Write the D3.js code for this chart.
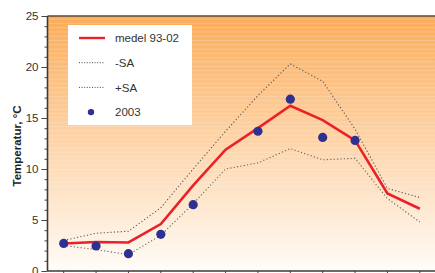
<!DOCTYPE html>
<html>
<head>
<meta charset="utf-8">
<script src="https://cdn.jsdelivr.net/npm/d3@7"></script>
<style>
  html, body { margin: 0; padding: 0; background: #fff; }
  svg { display: block; font-family: "Liberation Sans", Arial, sans-serif; }
</style>
</head>
<body>
<svg id="chart" width="435" height="273"></svg>
<script>
// months Jan..Dec
const months = ["jan", "feb", "mar", "apr", "maj", "jun", "jul", "aug", "sep", "okt", "nov", "dec"];
const medel = [2.7, 2.85, 2.8, 4.6, 8.4, 11.9, 14.0, 16.2, 14.8, 12.8, 7.6, 6.1];
const minusSA = [2.5, 2.1, 1.6, 3.5, 6.6, 10.0, 10.6, 12.0, 10.9, 11.05, 7.1, 4.8];
const plusSA = [3.0, 3.7, 3.9, 6.2, 10.0, 13.7, 17.2, 20.3, 18.6, 13.9, 8.1, 7.2];
const obs2003 = [2.7, 2.45, 1.7, 3.6, 6.5, null, 13.7, 16.85, 13.1, 12.8, null, null];
const yTicks = [0, 5, 10, 15, 20, 25];

const svg = d3.select("#chart");
const margin = { top: 16, right: -1, bottom: 2, left: 47.5 };
const W = 435, H = 273;
const x0 = margin.left, x1 = W - margin.right, y0 = margin.top, y1 = H - margin.bottom;

const x = d3.scaleBand().domain(months).range([x0, x1]);
const y = d3.scaleLinear().domain([0, 25]).range([y1, y0]);
const cx = m => x(m) + x.bandwidth() / 2;

// background gradient
const defs = svg.append("defs");
const grad = defs.append("linearGradient").attr("id", "bg")
  .attr("x1", 0).attr("y1", 0).attr("x2", 0).attr("y2", 1);
grad.append("stop").attr("offset", "0%").attr("stop-color", "#fbac5a");
grad.append("stop").attr("offset", "45%").attr("stop-color", "#fdd1a2");
grad.append("stop").attr("offset", "100%").attr("stop-color", "#fffcf8");

svg.append("rect")
  .attr("x", x0).attr("y", y0)
  .attr("width", x1 - x0).attr("height", y1 - y0)
  .attr("fill", "url(#bg)");

// faint horizontal streaks like the original gradient banding
svg.append("g").selectAll("line")
  .data(d3.range(y0 + 3, y1 - 80, 4.3))
  .join("line")
  .attr("x1", x0).attr("x2", x1)
  .attr("y1", d => d).attr("y2", d => d)
  .attr("stroke", "#fff").attr("stroke-opacity", 0.2).attr("stroke-width", 1);

// lines
const line = d3.line().x((d, i) => cx(months[i])).y(d => y(d));

svg.append("path").datum(plusSA)
  .attr("d", line).attr("fill", "none")
  .attr("stroke", "#555").attr("stroke-width", 1.1).attr("stroke-dasharray", "1.2,2.2");
svg.append("path").datum(minusSA)
  .attr("d", line).attr("fill", "none")
  .attr("stroke", "#666").attr("stroke-width", 1.1).attr("stroke-dasharray", "1.2,2.2");
svg.append("path").datum(medel)
  .attr("d", line).attr("fill", "none")
  .attr("stroke", "#ec2028").attr("stroke-width", 2.6);

svg.append("g").selectAll("circle")
  .data(obs2003.map((v, i) => ({ m: months[i], v })).filter(d => d.v !== null))
  .join("circle")
  .attr("cx", d => cx(d.m)).attr("cy", d => y(d.v))
  .attr("r", 4.6).attr("fill", "#2e3192");

// axes
const yAxis = d3.axisLeft(y).tickValues(yTicks).tickSize(6).tickPadding(3);
const gy = svg.append("g").attr("transform", `translate(${x0},0)`).call(yAxis);
gy.select(".domain").remove();
gy.selectAll("line").attr("stroke", "#444");
gy.selectAll("text").attr("font-size", 11.5).attr("fill", "#333")
  .attr("font-family", "Liberation Sans, Arial, sans-serif");

const yMinor = d3.axisLeft(y).tickValues(d3.range(0, 26).filter(v => v % 5 !== 0))
  .tickSize(3).tickFormat("");
const gm = svg.append("g").attr("transform", `translate(${x0},0)`).call(yMinor);
gm.select(".domain").remove();
gm.selectAll("line").attr("stroke", "#444");

const xAxis = d3.axisBottom(x).tickSize(4).tickFormat("");
const gx = svg.append("g").attr("transform", `translate(0,${y1})`).call(xAxis);
gx.select(".domain").remove();
gx.selectAll("line").attr("stroke", "#444");

// frame lines
svg.append("line").attr("x1", x0).attr("x2", x0).attr("y1", y0).attr("y2", y1)
  .attr("stroke", "#3a3a3a").attr("stroke-width", 1.6);
svg.append("line").attr("x1", x0).attr("x2", W).attr("y1", y0).attr("y2", y0)
  .attr("stroke", "#5a4a3a").attr("stroke-width", 1.4);
svg.append("line").attr("x1", x0).attr("x2", W).attr("y1", y1).attr("y2", y1)
  .attr("stroke", "#3a3a3a").attr("stroke-width", 1.4);

// y label
svg.append("text")
  .attr("transform", "translate(21,146) rotate(-90)")
  .attr("text-anchor", "middle")
  .attr("font-size", 11.5).attr("font-weight", "bold").attr("fill", "#222")
  .text("Temperatur, °C");

// legend
const lg = svg.append("g").attr("transform", "translate(68,25)");
lg.append("rect").attr("width", 124).attr("height", 100).attr("fill", "#fff");
const items = [
  { label: "medel 93-02", type: "red" },
  { label: "-SA", type: "dot" },
  { label: "+SA", type: "dot" },
  { label: "2003", type: "circle" }
];
items.forEach((it, i) => {
  const yy = 13 + i * 24.7;
  if (it.type === "red") {
    lg.append("line").attr("x1", 11).attr("x2", 37).attr("y1", yy).attr("y2", yy)
      .attr("stroke", "#ec2028").attr("stroke-width", 2.4);
  } else if (it.type === "dot") {
    lg.append("line").attr("x1", 11).attr("x2", 37).attr("y1", yy).attr("y2", yy)
      .attr("stroke", "#333").attr("stroke-width", 0.9).attr("stroke-dasharray", "1,1.6");
  } else {
    lg.append("circle").attr("cx", 23).attr("cy", yy).attr("r", 3.2).attr("fill", "#2e3192");
  }
  lg.append("text").attr("x", 47).attr("y", yy).attr("dy", "0.36em")
    .attr("font-size", 11.5).attr("fill", "#333").text(it.label);
});
</script>
</body>
</html>
